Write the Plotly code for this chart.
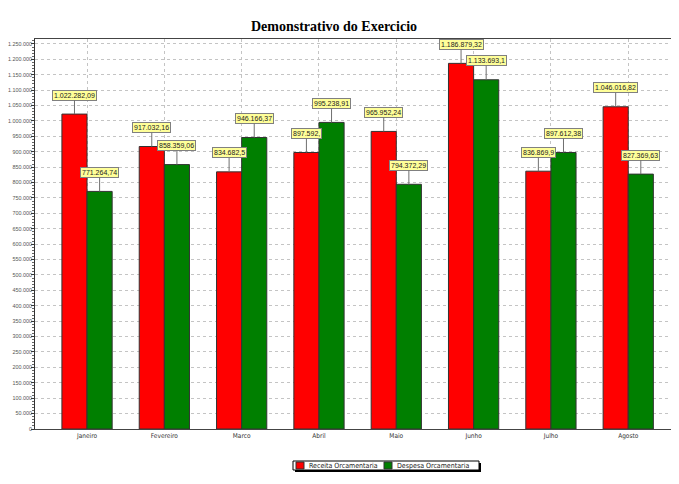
import plotly.graph_objects as go

months = ["Janeiro", "Fevereiro", "Marco", "Abril", "Maio", "Junho", "Julho", "Agosto"]
receita = [1022282.09, 917032.16, 834682.5, 897592.0, 965952.24, 1186879.32, 836869.9, 1046016.82]
despesa = [771264.74, 858359.06, 946166.37, 995238.91, 794372.29, 1133693.1, 897612.38, 827369.63]
receita_labels = ["1.022.282,09", "917.032,16", "834.682,5", "897.592,", "965.952,24",
                  "1.186.879,32", "836.869,9", "1.046.016,82"]
despesa_labels = ["771.264,74", "858.359,06", "946.166,37", "995.238,91", "794.372,29",
                  "1.133.693,1", "897.612,38", "827.369,63"]
series_names = ["Receita Orcamentaria", "Despesa Orcamentaria"]
series_colors = ["#FF0000", "#007F00"]

# page shows the figure offset by the default 8px body margin
OFF = 8
W, H = 679, 484
L, R, T, B = 27, 0, 31, 63
PW, PH = W - L - R, H - T - B


def px(xs):
    return (xs - OFF - L) / PW


def py(ys):
    return (H - B - (ys - OFF)) / PH


fig = go.Figure()
for name, vals, col in zip(series_names, (receita, despesa), series_colors):
    fig.add_bar(x=months, y=vals, name=name, showlegend=False,
                marker=dict(color=col, line=dict(color="#333333", width=1)))

bargap = 0.35
off = (1 - bargap) / 4
annots = []
for series, labels, sign in ((receita, receita_labels, -1), (despesa, despesa_labels, 1)):
    for i, (v, t) in enumerate(zip(series, labels)):
        annots.append(dict(x=i + sign * off, y=v, xref="x", yref="y", text=t,
                           showarrow=True, arrowhead=0, arrowwidth=1, arrowcolor="#707070",
                           ax=0, ay=-19, bgcolor="#FFFF99", bordercolor="#808080",
                           borderwidth=1, borderpad=1,
                           font=dict(family="Liberation Sans, Arial", size=7, color="#222222")))

# custom compact legend
shapes = [
    dict(type="rect", xref="paper", yref="paper", x0=px(295), x1=px(481), y0=py(472), y1=py(463),
         fillcolor="black", line=dict(width=0), layer="above"),
    dict(type="rect", xref="paper", yref="paper", x0=px(293), x1=px(479), y0=py(470), y1=py(461),
         fillcolor="white", line=dict(color="black", width=1), layer="above"),
]
leg_sq = [296, 384]
leg_txt = [307, 395]
for i in range(2):
    shapes.append(dict(type="rect", xref="paper", yref="paper", x0=px(leg_sq[i]), x1=px(leg_sq[i] + 8),
                       y0=py(469), y1=py(462), fillcolor=series_colors[i],
                       line=dict(color="#333333", width=1), layer="above"))
    annots.append(dict(x=px(leg_txt[i]), y=py(465.5), xref="paper", yref="paper",
                       text=series_names[i], showarrow=False, xanchor="left", yanchor="middle",
                       font=dict(family="Liberation Sans Narrow, DejaVu Sans Condensed, Liberation Sans",
                                 size=7, color="#222222")))

fig.update_layout(
    width=W, height=H,
    margin=dict(l=L, r=R, t=T, b=B),
    paper_bgcolor="white", plot_bgcolor="white",
    barmode="group", bargap=bargap, bargroupgap=0,
    separators=",.",
    title=dict(text="<b>Demonstrativo do Exercicio</b>", x=(334 - OFF) / W, xanchor="center",
               y=1 - 18 / H, yanchor="middle",
               font=dict(family="Liberation Serif, Times New Roman", size=14, color="black")),
    font=dict(family="Liberation Sans, Arial", size=7, color="#444444"),
    annotations=annots,
    shapes=shapes,
    showlegend=False,
)
fig.update_xaxes(range=[-0.673, 7.76], showgrid=True, gridcolor="#C4C4C4", griddash="dot",
                 gridwidth=1, showline=True, linecolor="#444444", linewidth=1, mirror=True,
                 ticks="", automargin=False,
                 tickfont=dict(family="Liberation Sans Narrow, DejaVu Sans Condensed, Liberation Sans",
                               size=6.5, color="#333333"))
fig.update_yaxes(range=[0, 1266000], dtick=50000, tickformat=",d", showgrid=True,
                 gridcolor="#C4C4C4", griddash="dot", gridwidth=1, showline=True,
                 linecolor="#333333", linewidth=1, ticks="outside", ticklen=3,
                 tickcolor="#333333", zeroline=False, automargin=False,
                 ticklabelstandoff=-2,
                 minor=dict(ticks="outside", ticklen=2, dtick=10000, tickcolor="#666666", showgrid=False),
                 tickfont=dict(family="Liberation Sans, Arial", size=5.4, color="#555555"))

fig.write_html("out.html")
